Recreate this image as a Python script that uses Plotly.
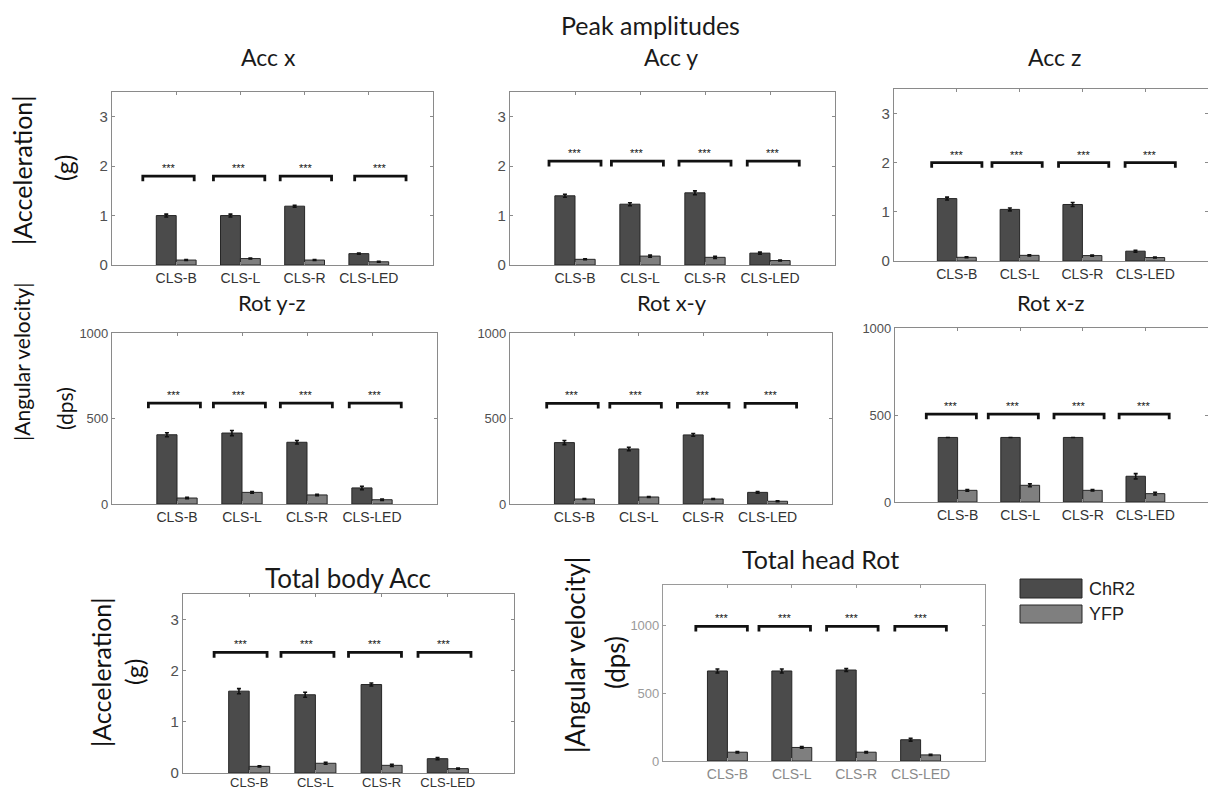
import plotly.graph_objects as go

# ---------------- data ----------------
categories = ["CLS-B", "CLS-L", "CLS-R", "CLS-LED"]
series_names = ["ChR2", "YFP"]
panel_titles = ["Acc x", "Acc y", "Acc z", "Rot y-z", "Rot x-y", "Rot x-z",
                "Total body Acc", "Total head Rot"]

chr2_mean = [
    [1.00, 1.00, 1.19, 0.23],
    [1.40, 1.23, 1.46, 0.24],
    [1.27, 1.05, 1.15, 0.20],
    [405, 415, 361, 94],
    [359, 322, 404, 68],
    [371, 371, 371, 148],
    [1.60, 1.53, 1.73, 0.28],
    [665, 665, 672, 157],
]
chr2_err = [
    [0.03, 0.03, 0.02, 0.01],
    [0.03, 0.03, 0.04, 0.02],
    [0.03, 0.03, 0.04, 0.02],
    [12, 15, 10, 10],
    [12, 10, 8, 5],
    [0, 0, 0, 15],
    [0.05, 0.05, 0.03, 0.02],
    [15, 15, 10, 10],
]
yfp_mean = [
    [0.10, 0.13, 0.10, 0.065],
    [0.115, 0.18, 0.155, 0.09],
    [0.075, 0.115, 0.11, 0.07],
    [35, 68, 53, 25],
    [29, 41, 29, 16],
    [67, 96, 67, 48],
    [0.13, 0.19, 0.15, 0.085],
    [65, 100, 65, 45],
]
yfp_err = [
    [0.01, 0.01, 0.01, 0.01],
    [0.01, 0.02, 0.02, 0.01],
    [0.01, 0.01, 0.01, 0.01],
    [4, 5, 4, 4],
    [3, 3, 3, 2],
    [5, 8, 4, 8],
    [0.01, 0.02, 0.02, 0.01],
    [5, 6, 5, 4],
]
bracket_level = [1.80, 2.10, 2.00, 590, 588, 505, 2.36, 995]
bracket_shift = [
    [-0.12, -0.02, 0.02, 0.18],
    [0.0, -0.04, 0.0, 0.05],
    [0.0, -0.04, 0.02, 0.08],
    [-0.04, -0.04, -0.01, 0.05],
    [-0.03, -0.05, 0.0, 0.05],
    [-0.10, -0.11, -0.06, -0.02],
    [-0.13, -0.12, -0.10, -0.05],
    [-0.09, -0.11, -0.06, 0.0],
]
sig_label = "***"
y_ranges = [[0, 3.5]] * 3 + [[0, 1000]] * 3 + [[0, 3.5], [0, 1300]]
y_ticks = [[0, 1, 2, 3]] * 3 + [[0, 500, 1000]] * 3 + [[0, 1, 2, 3], [0, 500, 1000]]

# ---------------- layout geometry (screen pixels) ----------------
OFF = 8                      # default page body margin
W, H = 1216 - 2 * OFF, 800 - 2 * OFF


def px(X):
    return (X - OFF) / W


def py(Y):
    return 1 - (Y - OFF) / H


frames = [  # left, right, top, bottom
    (112, 433, 92, 265),
    (510, 835, 92, 265),
    (894, 1208, 89, 261),
    (112, 437, 333, 504),
    (510, 832, 333, 504),
    (895, 1208, 328, 502),
    (183, 514, 594, 773),
    (663, 985, 585, 761),
]
title_pos = [(268, 57), (671, 57), (1054, 57), (272, 302), (672, 302), (1050, 302),
             (348, 578), (820, 559)]
title_size = [23, 23, 23, 22, 22, 22, 26, 25]

bar_colors = ["#4b4b4b", "#7f7f7f"]
text_font = "Lato, Calibri, 'Open Sans', sans-serif"
tick_font = "'Liberation Sans', Arial, sans-serif"

fig = go.Figure()
xpos = [1, 2, 3, 4]

for i in range(8):
    sfx = "" if i == 0 else str(i + 1)
    xa, ya = "x" + sfx, "y" + sfx
    for s, (means, errs) in enumerate([(chr2_mean[i], chr2_err[i]), (yfp_mean[i], yfp_err[i])]):
        fig.add_trace(go.Bar(
            x=xpos, y=means, name=series_names[s], xaxis=xa, yaxis=ya,
            marker=dict(color=bar_colors[s], line=dict(color="#262626", width=1)),
            error_y=dict(type="data", array=errs, color="#111111", thickness=1.6, width=2),
            showlegend=False, offsetgroup=str(s),
        ))
    # significance brackets
    rng = y_ranges[i][1] - y_ranges[i][0]
    d = 0.03 * rng
    bx, by = [], []
    lvl = bracket_level[i]
    for k, c in enumerate(xpos):
        cc = c + bracket_shift[i][k]
        bx += [cc - 0.4, cc - 0.4, cc + 0.4, cc + 0.4, None]
        by += [lvl - d, lvl, lvl, lvl - d, None]
        fig.add_annotation(x=cc, y=lvl, xref=xa, yref=ya, text=sig_label, showarrow=False,
                           xanchor="center", yanchor="middle",
                           yshift=8, font=dict(size=11, color="#111111", family=tick_font))
    fig.add_trace(go.Scatter(x=bx, y=by, xaxis=xa, yaxis=ya, mode="lines",
                             line=dict(color="#111111", width=2.8), showlegend=False,
                             hoverinfo="skip"))

    l, r, t, b = frames[i]
    faded = (i == 7)
    bottom_left = (i == 6)
    axcol = "#9a9a9a" if faded else "#8a8a8a"
    rot = y_ranges[i][1] > 10
    fig.layout["xaxis" + sfx] = dict(
        domain=[px(l), px(r)], anchor=ya, range=[0, 5], tickvals=xpos, ticktext=categories,
        showline=True, mirror="ticks", linecolor=axcol, linewidth=1.2,
        ticks="inside", ticklen=3, tickcolor=axcol, showgrid=False, zeroline=False,
        automargin=False, ticklabelstandoff=-3 if bottom_left else 0,
        tickfont=dict(family=tick_font, size=13 if bottom_left else 14,
                      color="#8a8a8a" if faded else "#333333"),
        fixedrange=True,
    )
    fig.layout["yaxis" + sfx] = dict(
        domain=[py(b), py(t)], anchor=xa, range=y_ranges[i], tickvals=y_ticks[i],
        showline=True, mirror="ticks", linecolor=axcol, linewidth=1.2,
        ticks="inside", ticklen=3, tickcolor=axcol, showgrid=False, zeroline=False,
        automargin=False,
        tickfont=dict(family=tick_font, size=13 if rot else 15,
                      color="#9a9a9a" if faded else "#505050"),
        fixedrange=True,
    )
    tx, ty = title_pos[i]
    fig.add_annotation(x=px(tx), y=py(ty), xref="paper", yref="paper", text=panel_titles[i],
                       showarrow=False, xanchor="center", yanchor="middle",
                       font=dict(family=text_font, size=title_size[i], color="#1a1a1a"))

# main title
fig.add_annotation(x=px(650), y=py(25), xref="paper", yref="paper", text="Peak amplitudes",
                   showarrow=False, xanchor="center", yanchor="middle",
                   font=dict(family=text_font, size=25, color="#1a1a1a"))

# axis labels (rotated)
ylabels = [
    ("|Acceleration|", 22, 170, 25), ("(g)", 64, 168, 25),
    ("|Angular velocity|", 22, 362, 21), ("(dps)", 64, 409, 21),
    ("|Acceleration|", 101, 672, 25), ("(g)", 134, 672, 25),
    ("|Angular velocity|", 575, 655, 26), ("(dps)", 615, 663, 26),
]
for txt, x, y, fs in ylabels:
    fig.add_annotation(x=px(x), y=py(y), xref="paper", yref="paper", text=txt, textangle=-90,
                       showarrow=False, xanchor="center", yanchor="middle",
                       font=dict(family=text_font, size=fs, color="#111111"))

# legend (boxes + labels)
leg_rows = [(579, 598), (605, 623)]
for s, (y0, y1) in enumerate(leg_rows):
    fig.add_shape(type="rect", xref="paper", yref="paper", x0=px(1020), x1=px(1082),
                  y0=py(y1), y1=py(y0), fillcolor=bar_colors[s],
                  line=dict(color="#262626", width=1))
    fig.add_annotation(x=px(1087), y=py((y0 + y1) / 2), xref="paper", yref="paper",
                       text=series_names[s], showarrow=False, xanchor="left", yanchor="middle",
                       font=dict(family=tick_font, size=18, color="#222222"))

fig.update_layout(
    width=W, height=H, margin=dict(l=0, r=0, t=0, b=0, autoexpand=False),
    paper_bgcolor="white", plot_bgcolor="white",
    barmode="group", bargap=0.38, bargroupgap=0.0, showlegend=False,
)

fig.write_html("out.html")
